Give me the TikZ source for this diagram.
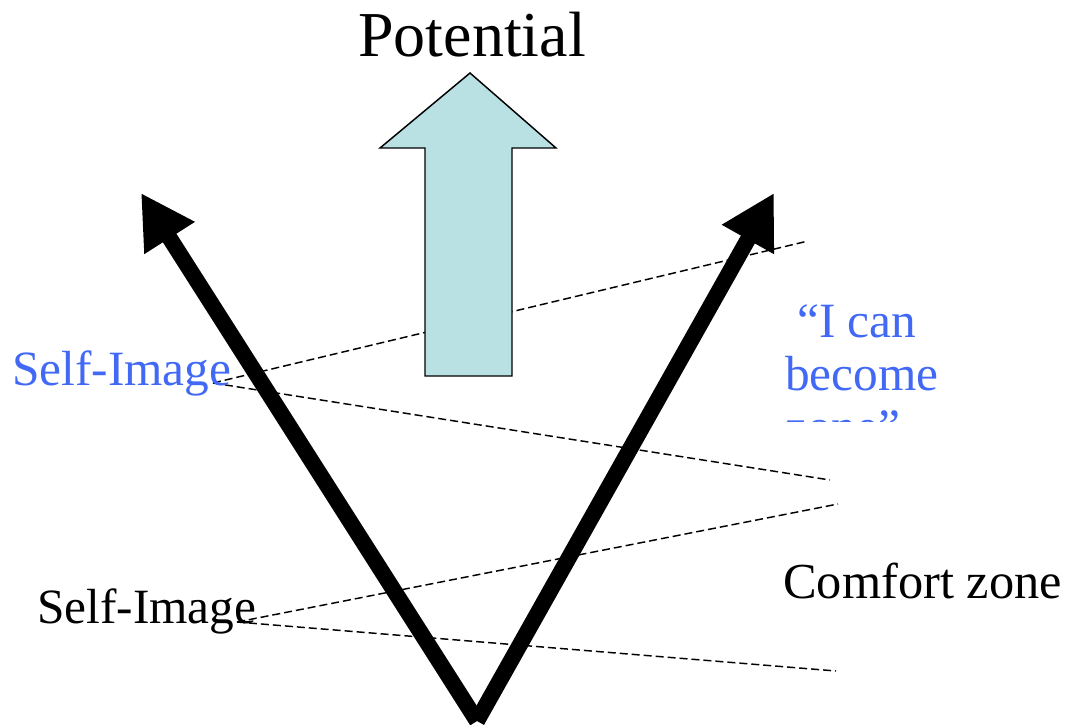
\documentclass[tikz,border=0pt]{standalone}
\usepackage{fontspec}
\setmainfont{Liberation Serif}
\usetikzlibrary{arrows.meta}
\definecolor{potfill}{RGB}{185,224,227}
\definecolor{selfblue}{RGB}{65,105,245}
\tikzset{
  bigarrow/.style={line width=12pt, -{Triangle[length=40pt,width=42pt]}},
  zoneline/.style={dash pattern=on 6pt off 3pt, line width=1.1pt},
  lbl/.style={inner sep=0pt, anchor=base west, font=\fontsize{37}{39}\selectfont},
  biglbl/.style={inner sep=0pt, anchor=base west, font=\fontsize{48}{52}\selectfont},
}
\begin{document}
\begin{tikzpicture}[x=0.75pt,y=-0.75pt]
\useasboundingbox (0,0) rectangle (1069,724);
\coordinate (V) at (477,721);
\coordinate (LT) at (141,193);
\coordinate (RT) at (774,193);
\coordinate (U) at (213,383);
\coordinate (U1) at (808,241);
\coordinate (U2) at (830,480);
\coordinate (L) at (237,622);
\coordinate (L1) at (838,504);
\coordinate (L2) at (836,671);
% dashed zone lines
\draw[zoneline] (U) -- (U1);
\draw[zoneline] (U) -- (U2);
\draw[zoneline] (L) -- (L1);
\draw[zoneline] (L) -- (L2);
% big V arrows
\draw[bigarrow] (V) -- (LT);
\draw[bigarrow] (V) -- (RT);
% potential block arrow
\draw[fill=potfill, line width=1.1pt, line join=miter]
  (425,376) -- (425,148) -- (380,148) -- (470,73) -- (556,148) -- (512,148) -- (512,376) -- cycle;
% labels
\node[biglbl] (pot) at (358,57) {Potential};
\node[lbl, text=selfblue] (selfup) at (12,385) {Self-Image};
\node[lbl] (selflow) at (37,623) {Self-Image};
\node[lbl, font=\fontsize{37.8}{40}\selectfont] (comfort) at (783,598) {Comfort zone};
\begin{scope}
  \clip (700,280) rectangle (1069,421);
  \node[lbl, text=selfblue] (can1) at (797,337) {“I can};
  \node[lbl, text=selfblue] (can2) at (785,390) {become};
  \node[lbl, text=selfblue] (can3) at (785,443) {zone”};
\end{scope}
\end{tikzpicture}
\end{document}
